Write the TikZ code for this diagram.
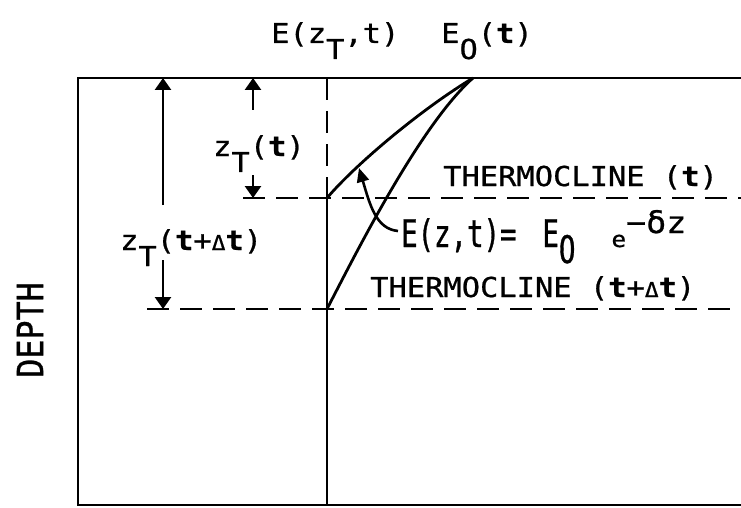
\documentclass[tikz,border=0pt]{standalone}
\usepackage{fontspec}
\usetikzlibrary{arrows.meta}
\newfontfamily\lgA[FakeStretch=1.11,FakeBold=0.8]{DejaVu Sans Mono}
\newfontfamily\lgF[FakeStretch=0.72,FakeBold=0.8]{DejaVu Sans Mono}
\newfontfamily\lgD[FakeStretch=0.88,FakeBold=0.8]{DejaVu Sans Mono}
\newcommand{\lsub}[1]{\raisebox{-16pt}{#1}}
\newcommand{\sdelta}{\scalebox{0.75}{Δ}}
\begin{document}
\begin{tikzpicture}[x=1pt,y=-1pt,
  line/.style={line width=2.8pt},
  dashline/.style={line width=2.5pt, dash pattern=on 22pt off 11pt},
  dimarrow/.style={line width=2.6pt, -{Triangle[length=12pt,width=16pt]}},
  ptr/.style={line width=2.6pt, -{Triangle[length=14pt,width=12pt]}},
  lbl/.style={inner sep=0pt, anchor=base west, font=\lgA\fontsize{27.4pt}{30pt}\selectfont}]
\useasboundingbox (0,0) rectangle (741,508);
% frame
\coordinate (tl) at (78,78);
\coordinate (tr) at (741,78);
\coordinate (bl) at (78,505);
\coordinate (br) at (741,505);
\draw[line, line join=miter] (tr) -- (tl) -- (bl) -- (br);
% vertical axis at E(z_T,t)
\coordinate (vtop) at (327,78);
\coordinate (vmid) at (327,198);
\coordinate (vbot) at (327,505);
\draw[dashline] (vtop) -- (vmid);
\draw[line] (vmid) -- (vbot);
% thermoclines
\coordinate (th1s) at (243,198);
\coordinate (th1e) at (741,198);
\coordinate (th2s) at (147,309);
\coordinate (th2e) at (741,309);
\draw[dashline] (th1s) -- (th1e);
\draw[dashline] (th2s) -- (th2e);
% profiles
\coordinate (e0) at (473,78);
\coordinate (p1) at (327,198);
\coordinate (p2) at (327,309);
\draw[line] (p1) .. controls (355,165) and (420,110) .. (e0);
\draw[line] (p2) .. controls (355,255) and (420,125) .. (e0);
% dimension arrows
\coordinate (za1) at (253,110);
\coordinate (zt1top) at (253,78);
\coordinate (zb1) at (253,175);
\coordinate (zt1bot) at (253,198);
\draw[dimarrow] (za1) -- (zt1top);
\draw[dimarrow] (zb1) -- (zt1bot);
\coordinate (za2) at (163,205);
\coordinate (zt2top) at (163,78);
\coordinate (zb2) at (163,260);
\coordinate (zt2bot) at (163,309);
\draw[dimarrow] (za2) -- (zt2top);
\draw[dimarrow] (zb2) -- (zt2bot);
% labels
\node[lbl] (top1) at (271,43) {E(z\lsub{T},t)};
\node[lbl] (top2) at (441,43) {E\lsub{O}(\textbf{t})};
\node[lbl] (zt1) at (213,156) {z\lsub{T}(\textbf{t})};
\node[lbl] (zt2) at (120,250) {z\lsub{T}(\textbf{t}+\sdelta\textbf{t})};
\node[lbl] (th1) at (443,186) {THERMOCLINE (\textbf{t})};
\node[lbl] (th2) at (370,297) {THERMOCLINE (\textbf{t}+\sdelta\textbf{t})};
\node[inner sep=0pt, anchor=base west, font=\lgF\fontsize{38pt}{40pt}\selectfont] (form) at (401,247)
  {E(z,t)=\hspace{26pt}E\raisebox{-16pt}{O}\hspace{36pt}{\lgA\fontsize{22pt}{24pt}\selectfont e}\raisebox{14pt}{\lgA\fontsize{30pt}{32pt}\selectfont −δz}};
\node[inner sep=0pt, rotate=90, font=\lgD\fontsize{36pt}{38pt}\selectfont] (depth) at (30,330) {DEPTH};
% pointer
\coordinate (ptail) at (398,231);
\coordinate (ptip) at (359,168);
\draw[ptr] (ptail) .. controls (376,229) and (370,205) .. (ptip);
\end{tikzpicture}
\end{document}
